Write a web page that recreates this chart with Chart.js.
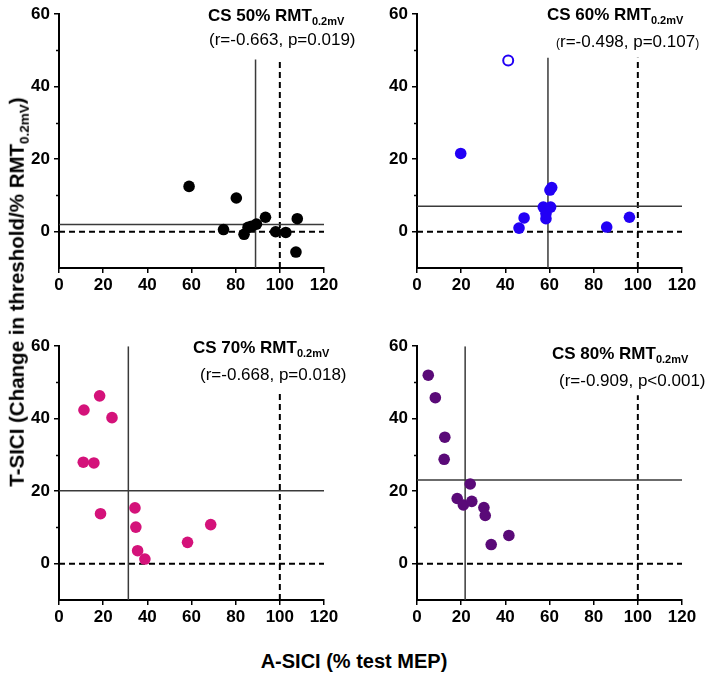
<!DOCTYPE html>
<html><head><meta charset="utf-8">
<script src="https://cdn.jsdelivr.net/npm/chart.js@4"></script>
<style>
body{margin:0;background:#fff;width:705px;height:673px;position:relative;overflow:hidden;font-family:"Liberation Sans",Arial,sans-serif;}
canvas{position:absolute;}
.t{position:absolute;white-space:nowrap;line-height:1;color:#000;}
.ti{font-weight:bold;font-size:17px;}
.ti span{font-size:11px;position:relative;top:4px;}
.r{font-size:17px;}
.ax{font-weight:bold;}
</style></head><body>
<canvas id="c0" width="345" height="300" style="left:0;top:0"></canvas>
<canvas id="c1" width="347" height="300" style="left:358px;top:0"></canvas>
<canvas id="c2" width="345" height="300" style="left:0;top:332px"></canvas>
<canvas id="c3" width="347" height="300" style="left:358px;top:332px"></canvas>
<div id="notes"></div>
<script>
// ---- data ----
const xTicks = [0, 20, 40, 60, 80, 100, 120];
const yTicks = [0, 20, 40, 60];
const yMinorTicks = [10, 30, 50];

const cs50X = [58.9, 80.3, 74.5, 83.8, 85.6, 87.1, 89.4, 93.5, 98.1, 102.7, 107.9, 107.3];
const cs50Y = [12.5, 9.3, 0.6, -0.7, 1.2, 1.5, 2.1, 4.0, 0.0, -0.2, 3.6, -5.6];

const cs60X = [19.8, 46.2, 48.5, 57.2, 58.4, 58.4, 60.5, 60.2, 61.0, 85.9, 96.2];
const cs60Y = [21.6, 1.0, 3.8, 6.8, 3.6, 5.0, 6.8, 11.5, 12.2, 1.3, 4.0];
const cs60OpenX = [41.3];
const cs60OpenY = [47.2];

const cs70X = [11.3, 18.4, 24.0, 11.0, 15.8, 18.8, 34.4, 34.8, 35.6, 38.9, 58.2, 68.7];
const cs70Y = [42.4, 46.3, 40.3, 28.0, 27.8, 13.8, 15.4, 10.1, 3.6, 1.3, 5.9, 10.8];

const cs80X = [5.1, 8.3, 12.6, 12.3, 18.2, 21.0, 24.8, 24.1, 30.3, 30.9, 33.6, 41.6];
const cs80Y = [52.0, 45.8, 34.9, 28.8, 18.0, 16.2, 17.2, 22.0, 15.5, 13.3, 5.3, 7.8];

const meanX = [89.0, 59.3, 31.4, 21.8];
const meanY = [2.0, 7.0, 20.1, 23.1];
const solidTop = [47.5, 48, 60, 60];
const dashTop = [47.5, 48, 47, 46.5];
const refX = 100;
const refY = 0;

const panelTitles = ['CS 50% RMT', 'CS 60% RMT', 'CS 70% RMT', 'CS 80% RMT'];
const titleSub = '0.2mV';
const panelStats = ['r=-0.663, p=0.019', 'r=-0.498, p=0.107', 'r=-0.668, p=0.018', 'r=-0.909, p<0.001'];
const smallParens = [false, true, false, false];
const colors = ['#000000', '#2200f5', '#d4127a', '#5a0a78'];
const yTitle = 'T-SICI (Change in threshold/% RMT';
const xTitle = 'A-SICI (% test MEP)';

// ---- layout ----
const titlePos = [[208, 6.6], [547, 6.3], [193, 338.6], [552, 345]];
const statPos = [[209, 30.6], [556, 32.6], [200, 366], [559, 371.6]];
const padRight = [21, 23, 21, 23];

const FONT = '"Liberation Sans", Arial, sans-serif';

const minorTickPlugin = {
  id: 'minorTicks',
  afterDraw(chart) {
    const y = chart.scales.y, ctx = chart.ctx, left = chart.chartArea.left;
    ctx.save();
    ctx.strokeStyle = '#000';
    ctx.lineWidth = 1.5;
    yMinorTicks.forEach(v => {
      const py = Math.round(y.getPixelForValue(v)) + 0.5;
      ctx.beginPath();
      ctx.moveTo(left - 3, py);
      ctx.lineTo(left, py);
      ctx.stroke();
    });
    ctx.restore();
  }
};

function pts(xs, ys) { return xs.map((x, k) => ({ x: x, y: ys[k] })); }

function makePanel(i, xs, ys, openXs, openYs) {
  const ds = [];
  ds.push({ data: pts(xs, ys), backgroundColor: colors[i], borderColor: colors[i], borderWidth: 0, pointRadius: 5.8, showLine: false });
  if (openXs) ds.push({ data: pts(openXs, openYs), backgroundColor: '#fff', borderColor: colors[i], borderWidth: 2, pointRadius: 5, showLine: false });
  const solid = { showLine: true, borderColor: '#3a3a3a', borderWidth: 1.5, pointRadius: 0, fill: false };
  const dash = { showLine: true, borderColor: '#000', borderWidth: 2, borderDash: [6, 4], pointRadius: 0, fill: false };
  ds.push(Object.assign({ data: [{ x: meanX[i], y: -10 }, { x: meanX[i], y: solidTop[i] }] }, solid));
  ds.push(Object.assign({ data: [{ x: 0, y: meanY[i] }, { x: 120, y: meanY[i] }] }, solid));
  ds.push(Object.assign({ data: [{ x: refX, y: -10 }, { x: refX, y: dashTop[i] }] }, dash));
  ds.push(Object.assign({ data: [{ x: 0, y: refY }, { x: 120, y: refY }] }, dash));

  const axisCommon = {
    type: 'linear',
    grid: { drawOnChartArea: false, drawTicks: true, tickLength: 5, color: '#000', lineWidth: 1.5 },
    border: { color: '#000', width: 2 },
    ticks: { font: { family: FONT, size: 17, weight: 'bold' }, color: '#000', maxRotation: 0, autoSkip: false }
  };
  new Chart(document.getElementById('c' + i), {
    type: 'scatter',
    data: { datasets: ds },
    options: {
      responsive: false,
      animation: false,
      events: [],
      devicePixelRatio: 1,
      layout: { padding: { top: 9, right: padRight[i], left: 0, bottom: 0 } },
      plugins: { legend: { display: false }, tooltip: { enabled: false } },
      scales: {
        x: Object.assign({}, axisCommon, {
          min: 0, max: 120,
          afterBuildTicks: s => { s.ticks = xTicks.map(v => ({ value: v })); },
          afterFit: s => { s.height = 32; },
          ticks: Object.assign({}, axisCommon.ticks, { padding: 2 })
        }),
        y: Object.assign({}, axisCommon, {
          min: -10, max: 60,
          afterBuildTicks: s => { s.ticks = yTicks.map(v => ({ value: v })); },
          afterFit: s => { s.width = 59; },
          ticks: Object.assign({}, axisCommon.ticks, { padding: 4 })
        })
      }
    },
    plugins: [minorTickPlugin]
  });
}

makePanel(0, cs50X, cs50Y);
makePanel(1, cs60X, cs60Y, cs60OpenX, cs60OpenY);
makePanel(2, cs70X, cs70Y);
makePanel(3, cs80X, cs80Y);

// ---- text annotations ----
const notes = document.getElementById('notes');
function paren(ch, small) {
  const s = document.createElement('span');
  s.textContent = ch;
  if (small) s.style.fontSize = '12px';
  return s;
}
for (let i = 0; i < 4; i++) {
  const t = document.createElement('div');
  t.className = 't ti';
  t.style.left = titlePos[i][0] + 'px';
  t.style.top = titlePos[i][1] + 'px';
  t.textContent = panelTitles[i];
  const sub = document.createElement('span');
  sub.textContent = titleSub;
  t.appendChild(sub);
  notes.appendChild(t);
  const r = document.createElement('div');
  r.className = 't r';
  r.style.left = statPos[i][0] + 'px';
  r.style.top = statPos[i][1] + 'px';
  r.appendChild(paren('(', smallParens[i]));
  r.appendChild(document.createTextNode(panelStats[i]));
  r.appendChild(paren(')', smallParens[i]));
  notes.appendChild(r);
}
const yl = document.createElement('div');
yl.className = 't ax';
yl.style.cssText = 'left:17px;top:292px;font-size:20.5px;transform:translate(-50%,-50%) rotate(-90deg);';
yl.textContent = yTitle;
const ys = document.createElement('span');
ys.style.cssText = 'font-size:13.5px;position:relative;top:5px;';
ys.textContent = titleSub;
yl.appendChild(ys);
yl.appendChild(document.createTextNode(')'));
notes.appendChild(yl);
const xl = document.createElement('div');
xl.className = 't ax';
xl.style.cssText = 'left:354px;top:651px;font-size:20px;transform:translateX(-50%);';
xl.textContent = xTitle;
notes.appendChild(xl);
</script>
</body></html>
